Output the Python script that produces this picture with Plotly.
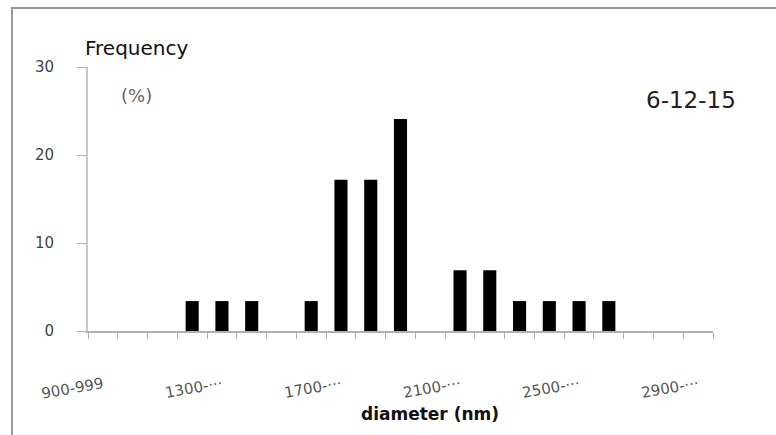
import plotly.graph_objects as go

categories = [f"{s}-{s+99}" for s in range(900, 3000, 100)]
frequency = [0, 0, 0, 3.4, 3.4, 3.4, 0, 3.4, 17.2, 17.2, 24.1, 0,
             6.9, 6.9, 3.4, 3.4, 3.4, 3.4, 0, 0, 0]
label_map = {"900-999": "900-999", "1300-1399": "1300-···", "1700-1799": "1700-···",
             "2100-2199": "2100-···", "2500-2599": "2500-···", "2900-2999": "2900-···"}
tick_text = [label_map.get(c, "") for c in categories]
y_ticks = [0, 10, 20, 30]

FONT = "DejaVu Sans, Arial, sans-serif"

fig = go.Figure(go.Bar(x=categories, y=frequency, marker=dict(color="black", line=dict(width=0))))

fig.update_layout(
    width=776, height=435,
    margin=dict(l=88, r=63, t=67, b=104),
    paper_bgcolor="white", plot_bgcolor="white",
    bargap=0.56, showlegend=False,
    font=dict(family=FONT, size=15, color="#555"),
)
fig.update_xaxes(
    type="category", categoryorder="array", categoryarray=categories,
    tickmode="array", tickvals=categories, ticktext=tick_text, tickangle=-10,
    tickson="boundaries",
    showline=True, linecolor="#b0b0b0", linewidth=2,
    ticks="outside", ticklen=6, tickcolor="#b0b0b0", tickwidth=1,
    ticklabelstandoff=37, showgrid=False, zeroline=False,
    tickfont=dict(size=15, color="#555", family=FONT),
)
fig.update_yaxes(
    range=[0, 30], tickvals=y_ticks,
    showline=True, linecolor="#c8c8c8", linewidth=2,
    ticks="outside", ticklen=9, tickcolor="#b0b0b0", tickwidth=1,
    ticklabelstandoff=20, showgrid=False, zeroline=False,
    tickfont=dict(size=15, color="#444", family=FONT),
)
# border frame
fig.add_shape(type="rect", xref="paper", yref="paper",
              x0=-0.1216, x1=2, y0=-2, y1=1.2235,
              line=dict(color="#999", width=2), layer="below")
fig.add_annotation(text="Frequency", xref="paper", yref="paper",
                   x=(83-88)/625, y=(331-48)/264, xanchor="left", yanchor="middle",
                   showarrow=False, font=dict(size=20, color="#111", family=FONT))
fig.add_annotation(text="(%)", xref="paper", yref="paper",
                   x=(119-88)/625, y=(331-95)/264, xanchor="left", yanchor="middle",
                   showarrow=False, font=dict(size=18, color="#666", family=FONT))
fig.add_annotation(text="6-12-15", xref="paper", yref="paper",
                   x=(691-88)/625, y=(331-100)/264, xanchor="center", yanchor="middle",
                   showarrow=False, font=dict(size=23, color="#222", family=FONT))
fig.add_annotation(text="<b>diameter (nm)</b>", xref="paper", yref="paper",
                   x=(430-88)/625, y=(331-414)/264, xanchor="center", yanchor="middle",
                   showarrow=False, font=dict(size=17, color="#111", family=FONT))

fig.write_html("out.html")
